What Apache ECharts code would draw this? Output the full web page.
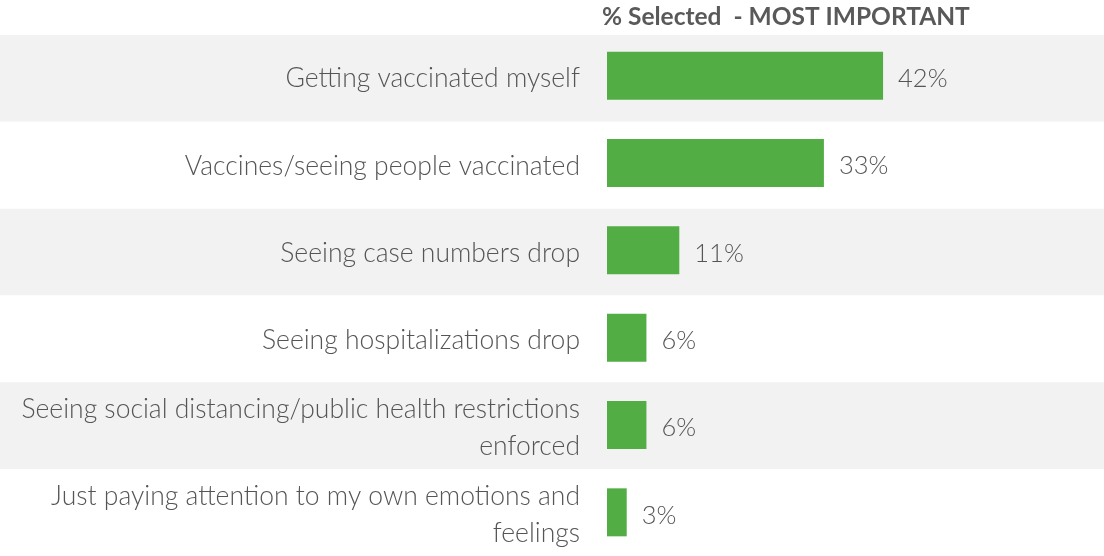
<!DOCTYPE html>
<html>
<head>
<meta charset="utf-8">
<script src="https://cdn.jsdelivr.net/npm/echarts@6/dist/echarts.min.js"></script>
<style>
html, body { margin: 0; padding: 0; background: #fff; }
#chart { width: 1104px; height: 556px; }
</style>
</head>
<body>
<div id="chart"></div>
<script>
// categories top to bottom
var categories = [
    'Getting vaccinated myself',
    'Vaccines/seeing people vaccinated',
    'Seeing case numbers drop',
    'Seeing hospitalizations drop',
    'Seeing social distancing/public health restrictions\nenforced',
    'Just paying attention to my own emotions and\nfeelings'
];
var values = [42, 33, 11, 6, 6, 3];
var headerText = '% Selected  - MOST IMPORTANT';

var chart = echarts.init(document.getElementById('chart'));
var option = {
    backgroundColor: '#ffffff',
    animation: false,
    title: {
        text: headerText,
        left: 597,
        top: 0,
        textStyle: {
            fontFamily: 'Lato',
            fontWeight: 'bold',
            fontSize: 24.5,
            color: '#595959'
        }
    },
    grid: [{
        // full width stripes behind the rows
        left: 0,
        right: 0,
        top: 35,
        height: 528
    }, {
        left: 607,
        right: 4,
        top: 32,
        height: 528
    }],
    xAxis: [{
        gridIndex: 0,
        type: 'value',
        show: false
    }, {
        gridIndex: 1,
        type: 'value',
        min: 0,
        max: 75,
        show: false
    }],
    yAxis: [{
        gridIndex: 0,
        type: 'category',
        inverse: true,
        data: categories,
        axisLine: { show: false },
        axisTick: { show: false },
        axisLabel: { show: false },
        splitArea: {
            show: true,
            areaStyle: { color: ['#f2f2f2', '#ffffff'] }
        }
    }, {
        gridIndex: 1,
        type: 'category',
        inverse: true,
        data: categories,
        axisLine: { show: false },
        axisTick: { show: false },
        axisLabel: {
            margin: 27,
            align: 'right',
            formatter: function(val) {
                // push text a few px down like the original
                return val.split('\n').map(function(s) { return '{t|' + s + '}'; }).join('\n');
            },
            rich: {
                t: {
                    fontFamily: 'Lato',
                    fontWeight: 300,
                    fontSize: 26.5,
                    lineHeight: 37,
                    padding: [6, 0, 0, 0],
                    color: '#555555',
                    align: 'right'
                }
            }
        }
    }],
    series: [{
        type: 'bar',
        xAxisIndex: 1,
        yAxisIndex: 1,
        data: values,
        barWidth: 48,
        itemStyle: { color: '#52ae44' },
        label: {
            show: true,
            position: 'right',
            distance: 15,
            offset: [0, 3],
            formatter: '{c}%',
            fontFamily: 'Lato',
            fontWeight: 300,
            fontSize: 25.5,
            color: '#555555'
        }
    }]
};
chart.setOption(option);
</script>
</body>
</html>
